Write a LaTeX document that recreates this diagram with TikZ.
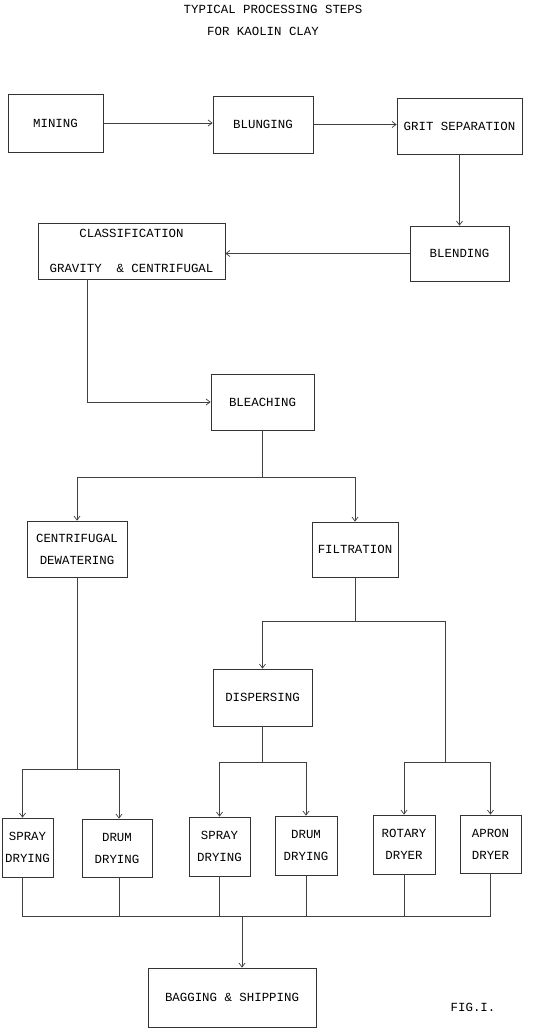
\documentclass[tikz,border=0pt]{standalone}
\usepackage{fontspec}
\setmonofont{Liberation Mono}
\usetikzlibrary{arrows.meta}
\begin{document}
\begin{tikzpicture}[x=1pt,y=-1pt,
  box/.style={draw=black!80, line width=0.8pt, inner sep=0pt, align=center,
    font=\ttfamily\fontsize{12.4}{22}\selectfont},
  lbl/.style={inner sep=0pt, align=center, font=\ttfamily\fontsize{12.4}{22}\selectfont},
  conn/.style={draw=black!75, line width=0.7pt},
  arr/.style={conn, -{Straight Barb[length=4pt,width=6pt]}}]
\useasboundingbox[fill=white] (0,0) rectangle (558,1030);

% title
\node[lbl] (title1) at (273,9) {TYPICAL PROCESSING STEPS};
\node[lbl] (title2) at (263,31) {FOR KAOLIN CLAY};

% boxes
\node[box, minimum width=95pt, minimum height=58pt] (mining) at (55.5,123) {MINING};
\node[box, minimum width=100pt, minimum height=57pt] (blunging) at (263,124.5) {BLUNGING};
\node[box, minimum width=125pt, minimum height=56pt] (grit) at (459.5,126) {GRIT SEPARATION};
\node[box, minimum width=99pt, minimum height=55pt] (blending) at (459.5,253.5) {BLENDING};
\node[box, minimum width=187pt, minimum height=56pt] (class) at (131.5,251) {CLASSIFICATION\\[13pt]GRAVITY\ \ \& CENTRIFUGAL};
\node[box, minimum width=103pt, minimum height=56pt] (bleach) at (262.5,402) {BLEACHING};
\node[box, minimum width=100pt, minimum height=56pt] (cent) at (77,549) {CENTRIFUGAL\\DEWATERING};
\node[box, minimum width=86pt, minimum height=55pt] (filt) at (355,549.5) {FILTRATION};
\node[box, minimum width=99pt, minimum height=57pt] (disp) at (262.5,697.5) {DISPERSING};
\node[box, minimum width=51pt, minimum height=59pt] (spray1) at (27.5,847.5) {SPRAY\\DRYING};
\node[box, minimum width=70pt, minimum height=58pt] (drum1) at (117,848) {DRUM\\DRYING};
\node[box, minimum width=61pt, minimum height=59pt] (spray2) at (219.5,846.5) {SPRAY\\DRYING};
\node[box, minimum width=62pt, minimum height=59pt] (drum2) at (306,845.5) {DRUM\\DRYING};
\node[box, minimum width=62pt, minimum height=59pt] (rotary) at (404,844.5) {ROTARY\\DRYER};
\node[box, minimum width=61pt, minimum height=58pt] (apron) at (490.5,844) {APRON\\DRYER};
\node[box, minimum width=168pt, minimum height=59pt] (bag) at (232,997.5) {BAGGING \& SHIPPING};
\node[lbl] (fig) at (473,1007) {FIG.I.};

% junction coordinates
\coordinate (j1) at (262.5,477);
\coordinate (j2) at (355,621);
\coordinate (j3) at (77,769);
\coordinate (j4) at (262.5,762);
\coordinate (j5) at (445,762);
\coordinate (j6) at (242,916);
\coordinate (jL) at (87,279);

% connectors
\draw[arr] (mining.east) -- (blunging.west |- mining.east);
\draw[arr] (blunging.east) -- (grit.west |- blunging.east);
\draw[arr] (grit.south) -- (blending.north);
\draw[arr] (blending.west) -- (class.east |- blending.west);
\draw[arr] (jL) |- (bleach.west);
\draw[conn] (bleach.south) -- (j1);
\draw[arr] (j1) -| (cent.north);
\draw[arr] (j1) -| (filt.north);
\draw[conn] (filt.south) -- (j2);
\draw[arr] (j2) -| (disp.north);
\draw[conn] (j2) -| (j5);
\draw[conn] (cent.south) -- (j3);
\draw[arr] (j3) -| ([xshift=-5pt]spray1.north);
\draw[arr] (j3) -| ([xshift=2pt]drum1.north);
\draw[conn] (disp.south) -- (j4);
\draw[arr] (j4) -| (spray2.north);
\draw[arr] (j4) -| (drum2.north);
\draw[arr] (j5) -| (rotary.north);
\draw[arr] (j5) -| (apron.north);
\draw[conn] ([xshift=-5pt]spray1.south) |- (j6);
\draw[conn] ([xshift=2pt]drum1.south) |- (j6);
\draw[conn] (spray2.south) |- (j6);
\draw[conn] (drum2.south) |- (j6);
\draw[conn] (rotary.south) |- (j6);
\draw[conn] (apron.south) |- (j6);
\draw[arr] (j6) -- (bag.north -| j6);
\end{tikzpicture}
\end{document}
